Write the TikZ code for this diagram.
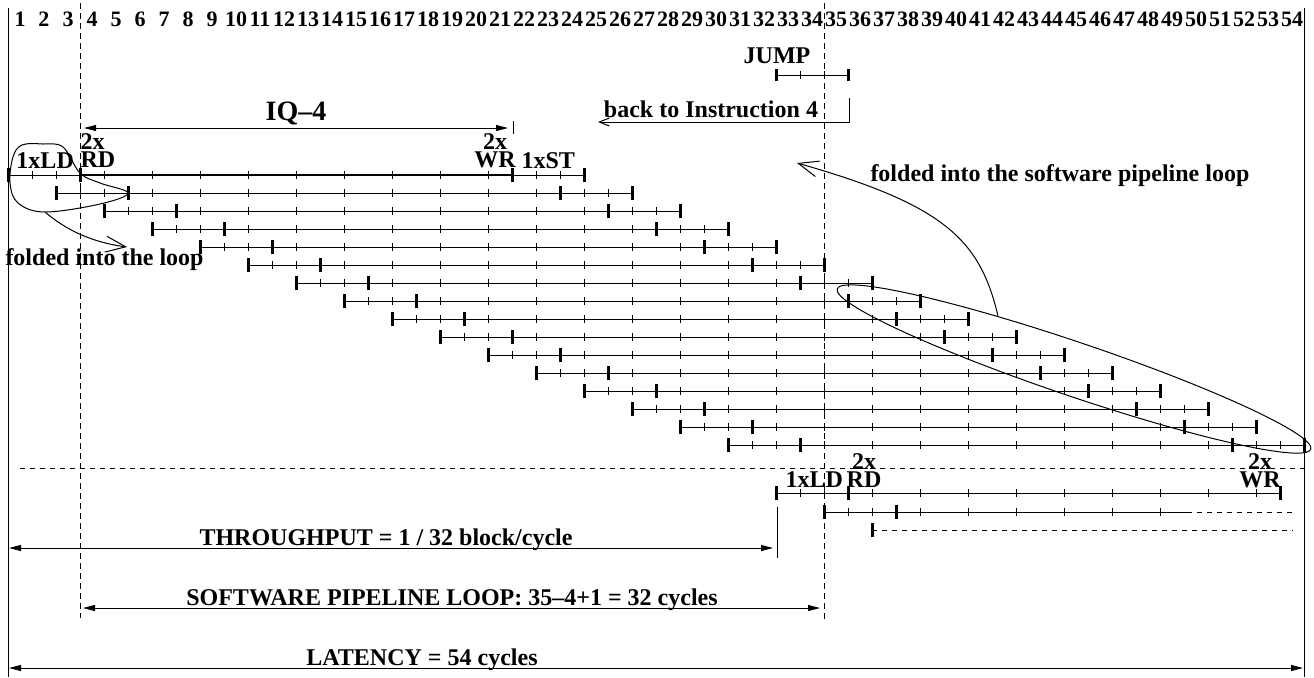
\documentclass[tikz,border=0pt]{standalone}
\usepackage{fontspec}
\setmainfont{Liberation Serif}
\usetikzlibrary{arrows.meta}

\tikzset{
  lbl/.style={font=\fontsize{12}{14}\selectfont\bfseries, inner sep=0pt},
  stack/.style={font=\fontsize{12}{9}\selectfont\bfseries, inner sep=0pt},
  num/.style={font=\fontsize{11}{13}\selectfont\bfseries, inner sep=0pt, anchor=base},
  rowline/.style={line width=0.5pt},
  bigtick/.style={line width=1.5pt},
  smalltick/.style={line width=0.5pt},
  guide/.style={line width=0.5pt, dash pattern=on 3pt off 2pt},
  sepline/.style={line width=0.5pt, dash pattern=on 2.5pt off 2.5pt},
  >={Triangle[length=6pt,width=3pt]},
  barb/.style={-{Straight Barb[length=#1,width=0.8*#1]}}
}

\begin{document}
\begin{tikzpicture}[x=0.5pt, y=-0.5pt, line width=0.5pt]
      \useasboundingbox (0,0) rectangle (1314,677);

      % Frame
      \draw (8,8) -- (8,677);
      \draw (1304,8) -- (1304,677);
      \draw[guide] (80,3) -- (80,618);
      \draw[guide] (824,3) -- (824,620);
      \draw[sepline] (20,468) -- (1304,468);

      % Cycle numbers
      \foreach \n in {1,...,54}
        \node[num] (n\n) at ({24*\n-4},26) {\n};

      % Pipeline rows
      \foreach \k in {0,...,15}{
        \pgfmathtruncatemacro{\s}{2*\k}
        \pgfmathtruncatemacro{\yy}{175+18*\k}
        \draw[rowline] ({8+24*\s},\yy) -- ({8+24*(\s+24)},\yy);
        \foreach \t in {0,3,21,24}
          \draw[bigtick] ({8+24*(\s+\t)},\yy-7) -- ({8+24*(\s+\t)},\yy+7);
        \foreach \t in {1,2,22,23}
          \draw[smalltick] ({8+24*(\s+\t)},\yy-4) -- ({8+24*(\s+\t)},\yy+4);
        \foreach \t in {4,6,...,20}
          \draw[smalltick] ({8+24*(\s+\t)},\yy-4) -- ({8+24*(\s+\t)},\yy+4);
      }
      \draw[line width=1.1pt] (80,175) -- (513,175);

      % Next iteration
      \draw[rowline] (776,493) -- (1280,493);
      \foreach \t in {32,35,53}
        \draw[bigtick] ({8+24*\t},486) -- ({8+24*\t},500);
      \foreach \t in {33,34,36,38,...,52}
        \draw[smalltick] ({8+24*\t},489) -- ({8+24*\t},497);
      \draw[rowline] (824,512) -- (1187,512);
      \draw[sepline] (1187,512) -- (1293,512);
      \foreach \t in {34,37}
        \draw[bigtick] ({8+24*\t},505) -- ({8+24*\t},519);
      \foreach \t in {35,36,38,40,...,48}
        \draw[smalltick] ({8+24*\t},508) -- ({8+24*\t},516);
      \draw[sepline] (872,530) -- (1293,530);
      \draw[bigtick] (872,523) -- (872,537);

      % Labels on the rows
      \node[lbl, anchor=base west] (ld1) at (16,168) {1xLD};
      \node[stack, align=left, anchor=south west] (rd1) at (80,168) {2x\\RD};
      \node[stack, align=center, anchor=south] (wr1) at (495,168) {2x\\WR};
      \node[lbl, anchor=base west] (st1) at (521,168) {1xST};
      \node[lbl, anchor=base west] (ld2) at (785,487) {1xLD};
      \node[stack, align=center, anchor=south] (rd2) at (864,488) {2x\\RD};
      \node[stack, align=center, anchor=south] (wr2) at (1260,488) {2x\\WR};

      % IQ-4
      \node[lbl, font=\fontsize{14}{16}\selectfont\bfseries, anchor=base] (iq) at (296,120) {IQ--4};
      \coordinate (iqL) at (84,128);
      \coordinate (iqR) at (508,128);
      \draw[<->] (iqL) -- (iqR);
      \draw (513,121) -- (513,134);

      % JUMP
      \node[lbl, anchor=base] (jump) at (777,63) {JUMP};
      \draw[rowline] (776,75) -- (848,75);
      \draw[bigtick] (776,69) -- (776,81);
      \draw[bigtick] (848,69) -- (848,81);
      \draw[smalltick] (800,71) -- (800,79);
      \draw[smalltick] (824,71) -- (824,79);
      \node[lbl, anchor=base] (back) at (711,117) {back to Instruction 4};
      \coordinate (backS) at (849,98);
      \coordinate (backE) at (598,122);
      \draw[barb=5pt] (backS) |- (backE);

      % Folded parts
      \draw plot[smooth cycle, tension=0.6] coordinates {(13,157) (22,145) (43,144) (63,147) (80,173) (100,183) (128,193) (100,204) (45,212) (18,203) (10,183)};
      \node[lbl, anchor=base west] (foldA) at (5,265) {folded into the loop};
      \draw[barb=10pt] (45,212) .. controls (65,229) and (90,242) .. (127,247);

      \draw[rotate around={-18.7:(1074,369)}] (1074,369) ellipse [x radius=250, y radius=27];
      \node[lbl, anchor=base west] (foldB) at (870,181) {folded into the software pipeline loop};
      \draw[barb=10pt] (998,316) .. controls (980,240) and (945,205) .. (797,163);

      % Measures
      \node[lbl, anchor=base] (thru) at (386,545) {THROUGHPUT = 1 / 32 block/cycle};
      \draw[<->] (9,548) -- (773,548);
      \draw (777,507) -- (777,558);
      \node[lbl, anchor=base] (swp) at (452,605) {SOFTWARE PIPELINE LOOP: 35--4+1 = 32 cycles};
      \draw[<->] (83,608) -- (820,608);
      \node[lbl, anchor=base] (lat) at (422,665) {LATENCY = 54 cycles};
      \draw[<->] (9,668) -- (1303,668);
\end{tikzpicture}
\end{document}
